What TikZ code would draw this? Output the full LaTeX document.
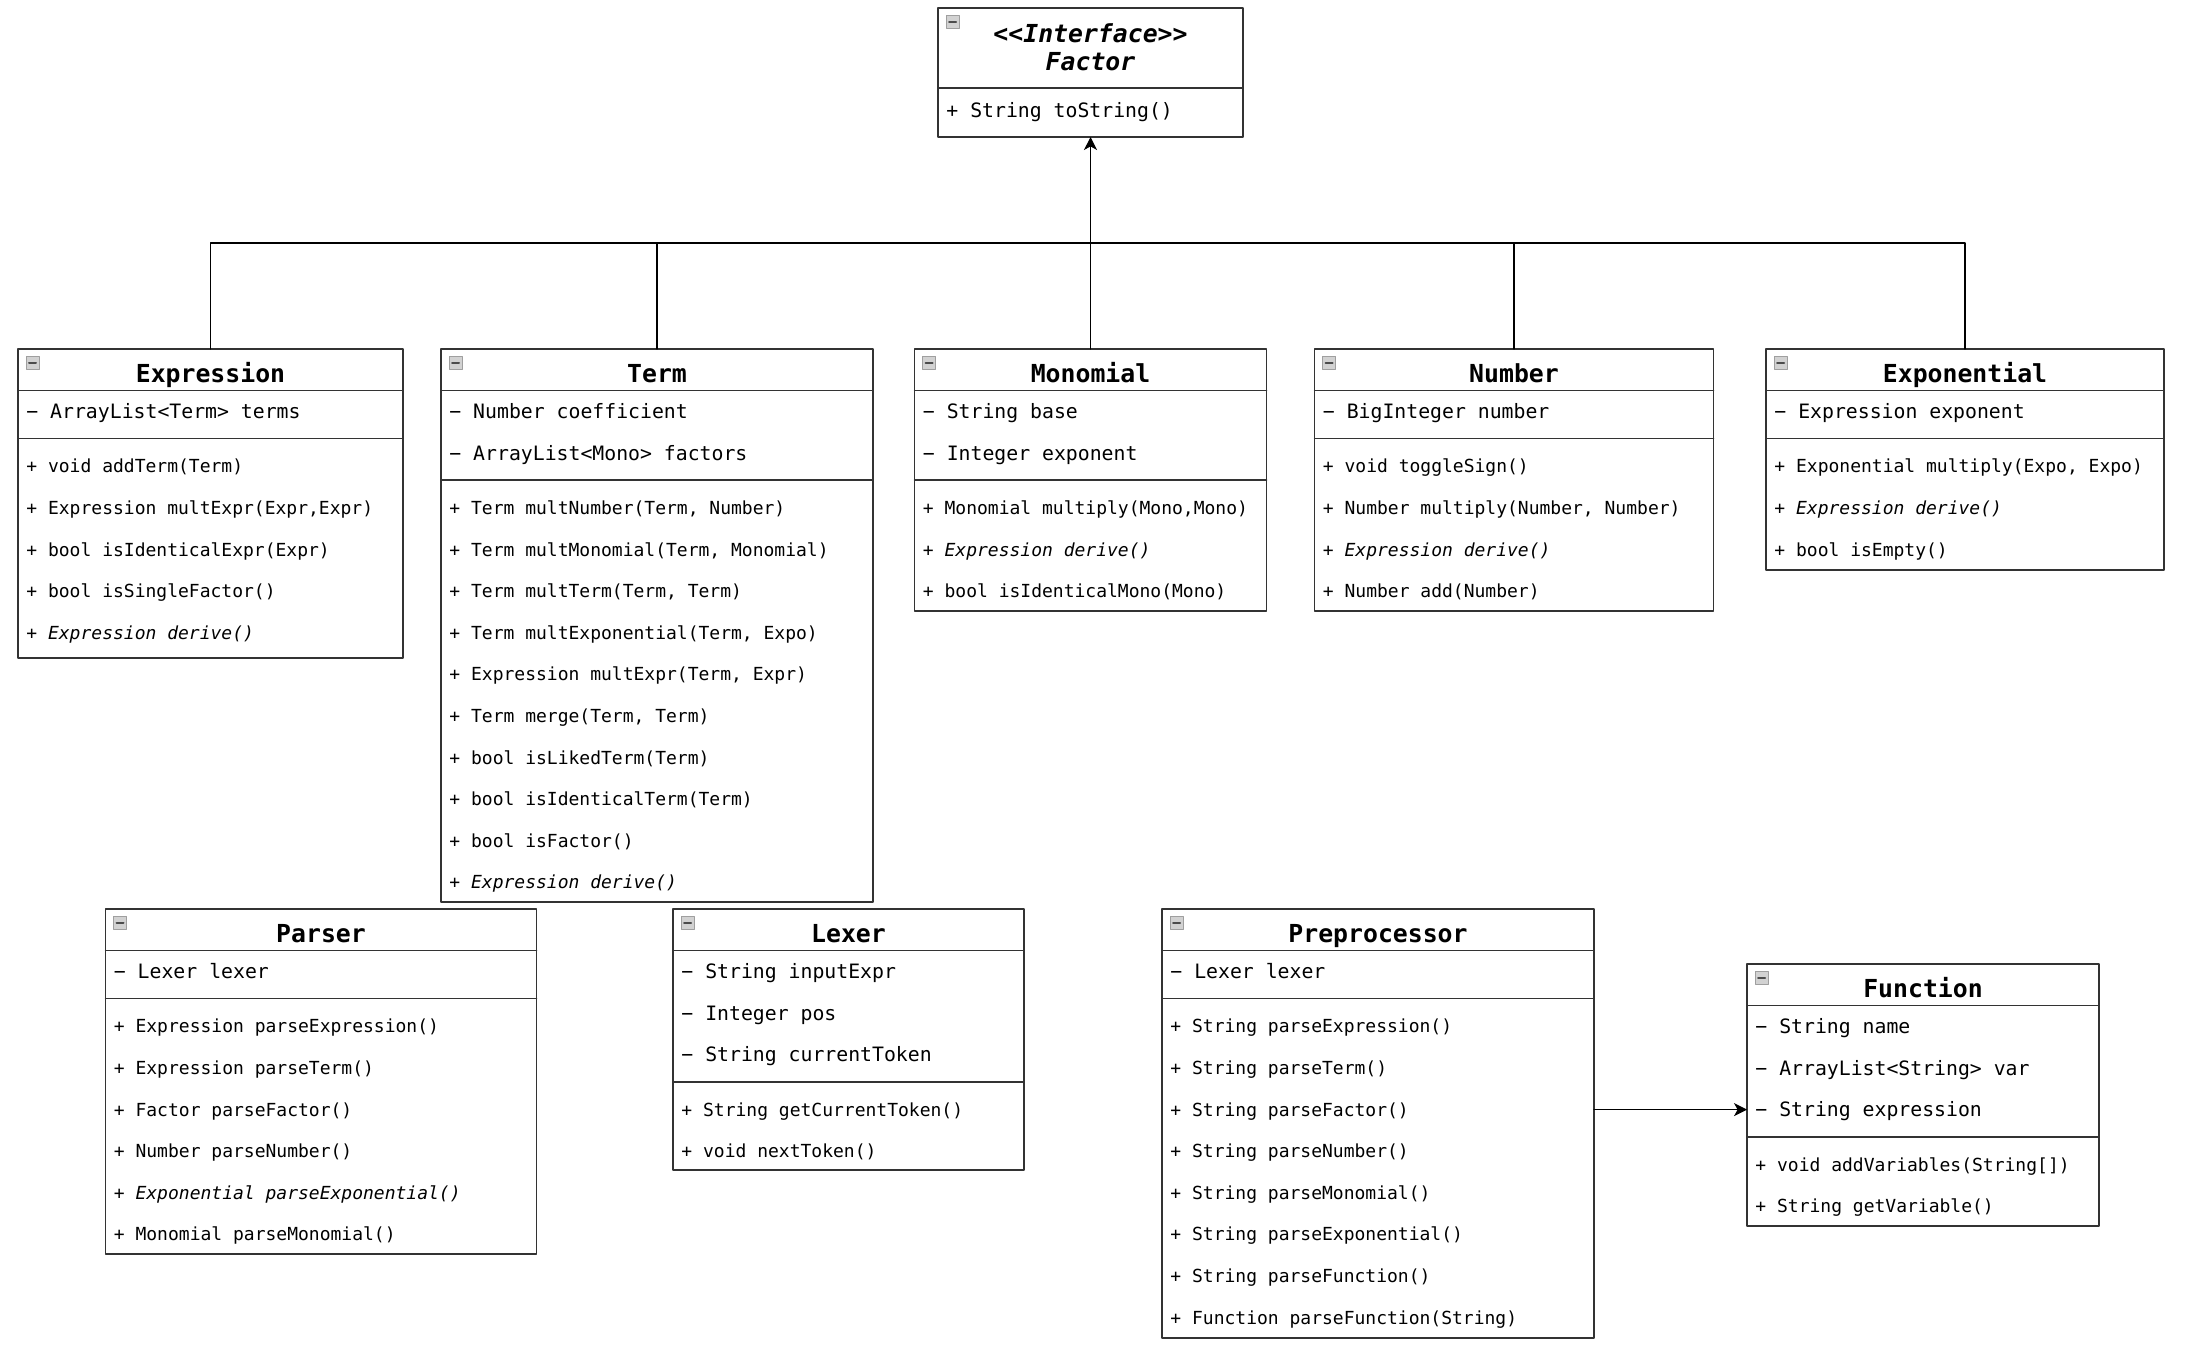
\documentclass[tikz,border=0pt]{standalone}
\usepackage{fontspec}
\setmonofont{DejaVu Sans Mono}[ItalicFont={DejaVu Sans Mono Oblique},BoldFont={DejaVu Sans Mono Bold},BoldItalicFont={DejaVu Sans Mono Bold Oblique}]
\usetikzlibrary{arrows.meta}

\tikzset{
  classbox/.style={draw=black!80,line width=0.75pt,rectangle,anchor=north west,outer sep=0pt,inner sep=0pt},
  divider/.style={draw=black!80,line width=0.75pt},
  titletext/.style={font=\ttfamily\bfseries\fontsize{12.4}{14}\selectfont,inner sep=0pt,text height=9pt,text depth=0pt},
  rowtext/.style={font=\ttfamily\fontsize{9}{11}\selectfont,anchor=west,inner sep=0pt,text height=9pt,text depth=2pt},
  attrtext/.style={rowtext,font=\ttfamily\fontsize{9.9}{12}\selectfont},
  iconbox/.style={fill=gray!35,draw=gray!75,line width=0.5pt},
  iconbar/.style={draw=black!70,line width=1pt},
  edge/.style={draw=black,line width=0.6pt},
}

% name, left, top, width, height, number of attributes, title, attributes, methods
\newcommand{\umlclass}[9]{%
  \node[classbox,minimum width=#4*0.5pt,minimum height=#5*0.5pt] (#1) at (#2,#3) {};
  \draw[iconbox] (#2+8,#3+7) rectangle ++(13,13);
  \draw[iconbar] (#2+11,#3+13.5) -- ++(7,0);
  \node[titletext] (#1-title) at (#2+#4/2,#3+24) {#7};
  \draw[divider] (#2,#3+41.6) -- ++(#4,0);
  \draw[divider] (#2,#3+41.6*#6+48) -- ++(#4,0);
  \foreach \txt [count=\i] in {#8}
    \node[attrtext] (#1-a\i) at (#2+8,#3+20.8+41.6*\i) {\txt};
  \foreach \txt [count=\i] in {#9}
    \node[rowtext] (#1-m\i) at (#2+8,#3+41.6*#6+33.6+41.6*\i) {\txt};
}

\begin{document}
\begin{tikzpicture}[line cap=round,line join=round,>={Stealth[length=6.5pt,width=6.5pt,inset=1.8pt]},x=0.5pt,y=-0.5pt]
\path[fill=white,use as bounding box] (0,0) rectangle (2188,1350);

\node[classbox,minimum width=305*0.5pt,minimum height=129*0.5pt] (factor) at (938,8) {};
\draw[iconbox] (946,15) rectangle ++(13,13);
\draw[iconbar] (949,21.5) -- ++(7,0);
\node[titletext] (factor-title1) at (1090.5,33) {\itshape <{}<Interface>{}>};
\node[titletext] (factor-title2) at (1090.5,61) {\itshape Factor};
\draw[divider] (938,88) -- ++(305,0);
\node[attrtext] (factor-m1) at (946,110) {+ String toString()};

\umlclass{expr}{18}{349}{385}{309}{1}{Expression}
  {− ArrayList<Term> terms}
  {+ void addTerm(Term), {+ Expression multExpr(Expr,Expr)}, + bool isIdenticalExpr(Expr),
   + bool isSingleFactor(), \itshape + Expression derive()}
\umlclass{term}{441}{349}{432}{553}{2}{Term}
  {− Number coefficient, − ArrayList<Mono> factors}
  {{+ Term multNumber(Term, Number)}, {+ Term multMonomial(Term, Monomial)},
   {+ Term multTerm(Term, Term)}, {+ Term multExponential(Term, Expo)},
   {+ Expression multExpr(Term, Expr)}, {+ Term merge(Term, Term)},
   + bool isLikedTerm(Term), + bool isIdenticalTerm(Term), + bool isFactor(),
   \itshape + Expression derive()}
\umlclass{mono}{914.5}{349}{352}{262}{2}{Monomial}
  {− String base, − Integer exponent}
  {{+ Monomial multiply(Mono,Mono)}, \itshape + Expression derive(), + bool isIdenticalMono(Mono)}
\umlclass{number}{1314.5}{349}{399}{262}{1}{Number}
  {− BigInteger number}
  {+ void toggleSign(), {+ Number multiply(Number, Number)}, \itshape + Expression derive(),
   + Number add(Number)}
\umlclass{expo}{1766}{349}{398}{221}{1}{Exponential}
  {− Expression exponent}
  {{+ Exponential multiply(Expo, Expo)}, \itshape + Expression derive(), + bool isEmpty()}
\umlclass{parser}{105.5}{909}{431}{345}{1}{Parser}
  {− Lexer lexer}
  {+ Expression parseExpression(), + Expression parseTerm(), + Factor parseFactor(),
   + Number parseNumber(), \itshape + Exponential parseExponential(), + Monomial parseMonomial()}
\umlclass{lexer}{673}{909}{351}{261}{3}{Lexer}
  {− String inputExpr, − Integer pos, − String currentToken}
  {+ String getCurrentToken(), + void nextToken()}
\umlclass{pre}{1162}{909}{432}{429}{1}{Preprocessor}
  {− Lexer lexer}
  {+ String parseExpression(), + String parseTerm(), + String parseFactor(),
   + String parseNumber(), + String parseMonomial(), + String parseExponential(),
   + String parseFunction(), + Function parseFunction(String)}
\umlclass{func}{1747}{964}{352}{262}{3}{Function}
  {− String name, − ArrayList<String> var, − String expression}
  {+ void addVariables(String[]), + String getVariable()}

\coordinate (forky) at (0,243);
\coordinate (fork) at (factor.south |- forky);
\draw[edge] (expr.north) |- (fork);
\draw[edge] (term.north) |- (fork);
\draw[edge] (number.north) |- (fork);
\draw[edge] (expo.north) |- (fork);
\draw[edge,->] (mono.north) -- (factor.south);
\draw[edge,->] (pre.east |- func-a3) -- (func.west |- func-a3);
\end{tikzpicture}
\end{document}
